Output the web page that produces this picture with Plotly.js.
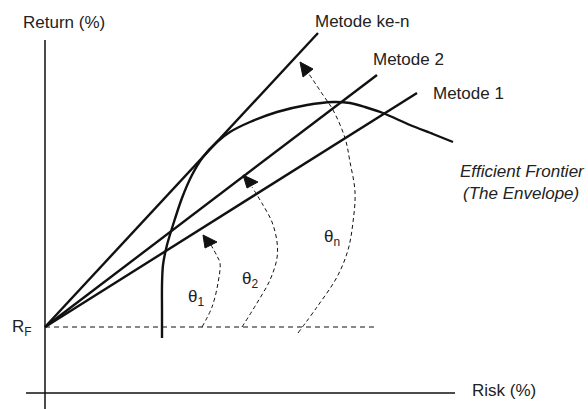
<!DOCTYPE html>
<html>
<head>
<meta charset="utf-8">
<script src="https://cdn.plot.ly/plotly-3.0.1.min.js"></script>
<style>html,body{margin:0;padding:0;background:#fff}#chart{width:588px;height:409px}</style>
</head>
<body>
<div id="chart"></div>
<script>
// Risk-free point (risk, return)
const rf = [0, 66];
// Capital allocation lines from RF: end points
const lineNames = ["Metode ke-n", "Metode 2", "Metode 1"];
const lineEndRisk = [273, 332, 372];
const lineEndReturn = [360, 318, 300];
// Efficient frontier (the envelope)
const frontierRisk = [117, 117, 117, 118, 122, 128, 137, 147, 158, 172, 185, 205, 232, 262, 288, 305, 320, 338, 365, 388, 408];
const frontierReturn = [55, 83, 108, 128, 148, 168, 195, 218, 236, 251, 261, 271, 281, 288, 291, 290, 286, 280, 268, 259, 251];
// Angle arcs (dashed) and arrow heads
const arc1Risk = [157, 167, 173, 175, 172, 166];
const arc1Return = [66, 86, 110, 130, 137, 148];
const head1Risk = [158, 172, 160, 158];
const head1Return = [158, 151, 145, 158];
const arc2Risk = [197, 212, 225, 232, 232, 227, 218, 207];
const arc2Return = [66, 90, 113, 135, 151, 171, 188, 206];
const head2Risk = [198, 213, 202, 198];
const head2Return = [218, 211, 205, 218];
const arcNRisk = [253, 272, 292, 303, 308, 310, 305, 300, 288, 278, 264];
const arcNReturn = [60, 86, 116, 143, 171, 201, 231, 255, 283, 298, 319];
const headNRisk = [255, 268, 258, 255];
const headNReturn = [331, 324, 316, 331];
// Risk-free dashed level
const rfLineRisk = [0, 332];
// Axes extents
const xAxisRisk = [-19, 410];
const yAxisReturn = [-16, 353];
// Angle labels
const angleLabels = ["θ<sub>1</sub>", "θ<sub>2</sub>", "θ<sub>n</sub>"];
const angleLabelRisk = [151, 205, 287];
const angleLabelReturn = [95, 113, 155];

const ink = "#111";
const traces = [];
// axes
traces.push({x: xAxisRisk, y: [0, 0], mode: "lines", line: {color: ink, width: 1.5}, hoverinfo: "skip"});
traces.push({x: [0, 0], y: yAxisReturn, mode: "lines", line: {color: ink, width: 1.5}, hoverinfo: "skip"});
// rf dashed line
traces.push({x: rfLineRisk, y: [rf[1], rf[1]], mode: "lines", line: {color: ink, width: 1, dash: "5px,4px"}, hoverinfo: "skip"});
// rays
for (let i = 0; i < lineNames.length; i++) {
  traces.push({x: [rf[0], lineEndRisk[i]], y: [rf[1], lineEndReturn[i]], mode: "lines", name: lineNames[i], line: {color: ink, width: 2.4}});
}
// frontier
traces.push({x: frontierRisk, y: frontierReturn, mode: "lines", line: {color: ink, width: 2.4, shape: "spline", smoothing: 0.8}, name: "Efficient Frontier"});
// arcs
[[arc1Risk, arc1Return], [arc2Risk, arc2Return], [arcNRisk, arcNReturn]].forEach(a => {
  traces.push({x: a[0], y: a[1], mode: "lines", line: {color: ink, width: 1, dash: "4px,3px", shape: "spline", smoothing: 1}, hoverinfo: "skip"});
});
[[head1Risk, head1Return], [head2Risk, head2Return], [headNRisk, headNReturn]].forEach(h => {
  traces.push({x: h[0], y: h[1], mode: "lines", fill: "toself", fillcolor: ink, line: {color: ink, width: 1}, hoverinfo: "skip"});
});

const fnt = {family: "Liberation Sans, Arial, sans-serif", size: 17, color: "#222"};
const ann = [];
function A(text, x, y, xanchor, extra) {
  ann.push(Object.assign({text: text, x: x, y: y, xref: "x", yref: "y", xanchor: xanchor, yanchor: "middle", showarrow: false, font: fnt}, extra || {}));
}
A(lineNames[0], 268, 372, "left");
A(lineNames[1], 326, 334, "left");
A(lineNames[2], 386, 300, "left");
A("<i>Efficient Frontier</i>", 413, 222, "left");
A("<i>(The Envelope)</i>", 416, 200, "left");
A("Return (%)", -24, 371, "left");
A("Risk (%)", 425, 3, "left");
A("R<sub>F</sub>", -35, 65, "left");
for (let i = 0; i < angleLabels.length; i++) A(angleLabels[i], angleLabelRisk[i], angleLabelReturn[i], "center");

const layout = {
  width: 588, height: 409,
  margin: {l: 0, r: 0, t: 0, b: 0},
  paper_bgcolor: "#fff", plot_bgcolor: "#fff",
  showlegend: false,
  xaxis: {range: [-45, 543], visible: false, fixedrange: true},
  yaxis: {range: [-16, 393], visible: false, fixedrange: true},
  annotations: ann
};
Plotly.newPlot("chart", traces, layout, {staticPlot: true, displayModeBar: false});
</script>
</body>
</html>
